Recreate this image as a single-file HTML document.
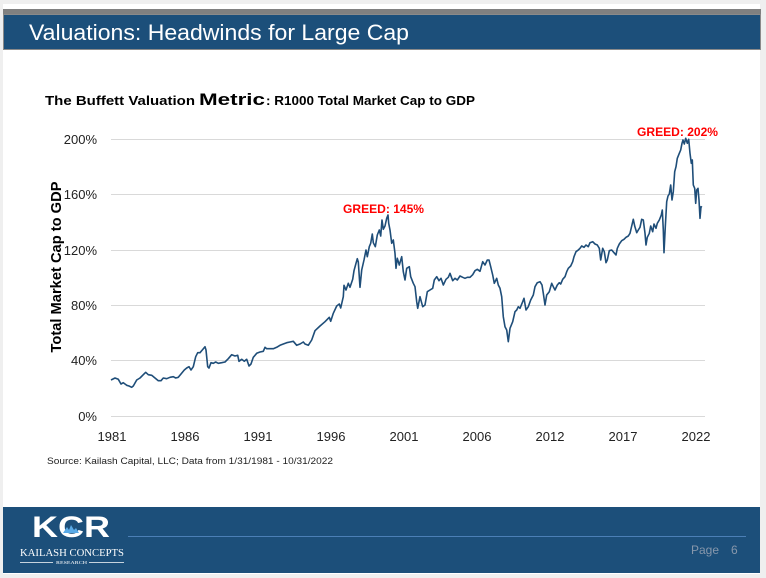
<!DOCTYPE html>
<html><head><meta charset="utf-8"><style>
html,body{margin:0;padding:0;background:#efefef;}
svg{display:block;}
</style></head><body>
<svg width="766" height="578" viewBox="0 0 766 578" xmlns="http://www.w3.org/2000/svg">
<rect x="0" y="0" width="766" height="578" fill="#efefef"/>
<rect x="3" y="4" width="757" height="570" fill="#ffffff"/>
<!-- header -->
<rect x="3" y="9" width="758" height="5" fill="#808080"/>
<rect x="3.5" y="14.5" width="757" height="35" fill="#1c4f7a" stroke="#8a8a8a" stroke-width="1"/>
<text x="29" y="40" font-family="Liberation Sans, Arial, sans-serif" font-size="22" fill="#ffffff" textLength="380" lengthAdjust="spacingAndGlyphs">Valuations: Headwinds for Large Cap</text>

<!-- chart title -->
<g font-family="Liberation Sans, Arial, sans-serif" font-weight="bold" fill="#000">
<text x="45" y="105" font-size="13" textLength="150" lengthAdjust="spacingAndGlyphs">The Buffett Valuation</text>
<text x="199" y="105" font-size="16.5" textLength="66" lengthAdjust="spacingAndGlyphs">Metric</text>
<text x="266" y="105" font-size="13" textLength="209" lengthAdjust="spacingAndGlyphs">: R1000 Total Market Cap to GDP</text>
</g>

<!-- gridlines -->
<g stroke="#d9d9d9" stroke-width="1">
<line x1="111" y1="139.5" x2="705" y2="139.5"/>
<line x1="111" y1="194.5" x2="705" y2="194.5"/>
<line x1="111" y1="250.5" x2="705" y2="250.5"/>
<line x1="111" y1="305.5" x2="705" y2="305.5"/>
<line x1="111" y1="360.5" x2="705" y2="360.5"/>
<line x1="111" y1="416.5" x2="705" y2="416.5"/>
</g>

<!-- y tick labels -->
<g font-family="Liberation Sans, Arial, sans-serif" font-size="13" fill="#222" text-anchor="end">
<text x="97" y="144">200%</text>
<text x="97" y="199">160%</text>
<text x="97" y="255">120%</text>
<text x="97" y="310">80%</text>
<text x="97" y="365">40%</text>
<text x="97" y="421">0%</text>
</g>
<!-- x tick labels -->
<g font-family="Liberation Sans, Arial, sans-serif" font-size="13" fill="#222" text-anchor="middle">
<text x="112" y="441">1981</text>
<text x="185" y="441">1986</text>
<text x="258" y="441">1991</text>
<text x="331" y="441">1996</text>
<text x="404" y="441">2001</text>
<text x="477" y="441">2006</text>
<text x="550" y="441">2012</text>
<text x="623" y="441">2017</text>
<text x="696" y="441">2022</text>
</g>

<!-- y axis title -->
<text transform="translate(61,267) rotate(-90)" text-anchor="middle" font-family="Liberation Sans, Arial, sans-serif" font-weight="bold" font-size="15" fill="#000" textLength="171" lengthAdjust="spacingAndGlyphs">Total Market Cap to GDP</text>

<!-- series -->
<polyline fill="none" stroke="#1f4e79" stroke-width="1.6" stroke-linejoin="round" points="
111,380 115,378 118.3,379.3 121,384 123.3,382.7 126.7,385.3 129,386 131.7,387.3 133.3,386 136.7,380 140,378 143.3,374.7 145.7,372.3 148.3,374.7 151.7,375.3 155,378 158.3,380.7 161,380.7 163.3,378 166.7,378.7 170,377.3 173.3,376.7 175.7,378 178.3,377.3 181,374 184.3,370 186.7,368 189,366.7 191,370 193.3,366.7 195.7,356.7 197.7,352.7 200,352.7 202.3,350 205,346.7 206,350 207.7,366.7 209,368 211,362.7 213.3,363.3 215.7,362 218.3,363.3 221.7,362.7 225,362 228.3,358.7 231.7,354.7 235,356 237.7,355.3 239,361.3 241.7,359.3 244.3,361.3 246.7,359.3 249,366 251,364 253.3,357.3 256.7,353.3 260,352 263.3,351.3 265,347.3 266.7,348.7 270,348.7 273.3,348.7 276.7,347.3 280,345.3 283.3,344 286.7,342.7 290,342 293.3,341.3 296.7,345.3 300,344 303.3,342
305,344 308.3,345.3 311.7,340 315,330.7 320,326 325,321.7 329.3,317.3 330.7,321.3 333.3,313.3 336.7,306 339.3,304 340.7,308 343.3,296.7 344,285.3 346,290 348.3,283.3 350,287.3 352.7,279.3 354,270.7 356,263.3 357.3,258.7 358.3,262 360,287.3 361.7,270 364,260 366,250 367.3,256.7 369.3,246.7 370.7,243.3 372.3,234 373.3,242.7 375.3,246.7 377.3,235 379.3,230 380.7,236 382,220 383.3,229.3 385,226 386.7,218.3 388,215 388.7,223.3 390,230 391.7,243.3 393.3,240 395,253.3 396,268.3 397.3,258.3 399.3,265 401.7,256.7 403.3,271.7 405,280 406.7,268.3 409.3,266.7 410.7,276.7 413.3,283.3 415,286.7 416.7,301.7 417.7,308.3 420,296.7 422.7,306.7 425,305 427.3,291.7 430,290 432.7,288.3 434.3,280 436.7,276.7 439,280.7 441,278.3 443.3,285 446,279.3 448.3,277.3 450,273.3 452.7,280.7 455,278.3 457.3,280 460,276 462.7,277.3 465,278.3 467.3,277.3 470,277.3 472.7,274.7 475,270.7 477.3,269.3 480,271.3 482.7,261.7 485,265 487.3,260 489,260 490.7,266.7 492.7,275 494.3,283.3 496.7,278.3 498.3,285 500,288.3 501.7,296.7 503.3,316.7 505,326.7 506.7,330 508.3,341.7 510,328.3 512.7,321.7 515,311.7
516.7,310 518.3,306.7 520,308.3 522.7,301.7 524,298.3 526,310 528.3,306.7 530.7,300 533.3,295 535,286.7 537.3,282.7 540,281.7 542,285 543.3,293.3 545,305 546.7,295 549.3,291.7 551.7,283.3 553.3,286.7 555,290 557.3,285 559.3,282.7 560.7,284 562.7,279.3 565,276.7 566.7,271.7 568.3,268.3 570.7,266 572.7,261.7 574,256.7 576,251.7 578.3,250 580,248.3 581.7,246 584,247.3 586,245 588.3,246.7 590,242.7 592.7,241.7 595,244 597.3,245 599.3,248.3 600.7,260 602.7,248.3 604.3,251.7 606,262.7 607.3,260 609.3,250.7 611.7,250 614,252.7 616,255 617.3,248.3 619.3,244 621.7,240.7 624,239.3 626,237.3 628.3,236 630,233.3 631.7,226 633.3,219.3 634.7,226 636.7,232.7 638.3,230 640,227.3 641.7,219.3 643.3,220 645,233.3 646,245 647.3,237.3 649.3,233.3 650.7,226 652.7,231.7 654,224 656,228.3 657.3,223.3 659.3,220 661.3,215 662.3,210 663.3,230 664,252.7 665.3,226.7 666.7,201.7 668,196 669.3,194 670.7,185 672,200 673.3,191.7 674.7,171.7 676,166.7 677.3,158.3 679.3,153.3 680.7,150 682,143.3 683,140 684.3,144 685.7,138.3 687.3,143.3 688.7,139.3 690,153.3 691.3,163.3 692.3,160 693.3,185 694.7,188.3 695.7,203.3 696.7,190 698,188.3 699,200 700,218.3 701,206.7 702,207.3"/>

<!-- annotations -->
<g font-family="Liberation Sans, Arial, sans-serif" font-weight="bold" font-size="12" fill="#ff0000">
<text x="343" y="213" textLength="81" lengthAdjust="spacingAndGlyphs">GREED: 145%</text>
<text x="637" y="136" textLength="81" lengthAdjust="spacingAndGlyphs">GREED: 202%</text>
</g>

<!-- source -->
<text x="47" y="464" font-family="Liberation Sans, Arial, sans-serif" font-size="9" fill="#222" textLength="286" lengthAdjust="spacingAndGlyphs">Source: Kailash Capital, LLC; Data from 1/31/1981 - 10/31/2022</text>

<!-- footer -->
<rect x="3" y="507" width="757" height="66" fill="#1c4f7a"/>
<line x1="128" y1="536.5" x2="746" y2="536.5" stroke="#4b7fb6" stroke-width="1"/>
<text x="691" y="554" font-family="Liberation Sans, Arial, sans-serif" font-size="12" fill="#8797ab" textLength="28" lengthAdjust="spacingAndGlyphs">Page</text>
<text x="731" y="554" font-family="Liberation Sans, Arial, sans-serif" font-size="12" fill="#8797ab">6</text>

<text x="32" y="537" font-family="Liberation Sans, Arial, sans-serif" font-weight="bold" font-size="30" fill="#ffffff" textLength="78" lengthAdjust="spacingAndGlyphs">KCR</text>
<polygon points="63,533 67,527 69,530 71,525 74,530 76,528 79,533" fill="#5aaae6"/>
<text x="20" y="556" font-family="Liberation Serif, 'Times New Roman', serif" font-size="10" fill="#ffffff" textLength="104" lengthAdjust="spacingAndGlyphs">KAILASH CONCEPTS</text>
<line x1="20" y1="562.5" x2="53" y2="562.5" stroke="#ffffff" stroke-width="0.8"/>
<line x1="89" y1="562.5" x2="124" y2="562.5" stroke="#ffffff" stroke-width="0.8"/>
<text x="56" y="564" font-family="Liberation Serif, serif" font-size="4.5" fill="#ffffff" textLength="31" lengthAdjust="spacingAndGlyphs">RESEARCH</text>
</svg>
</body></html>
